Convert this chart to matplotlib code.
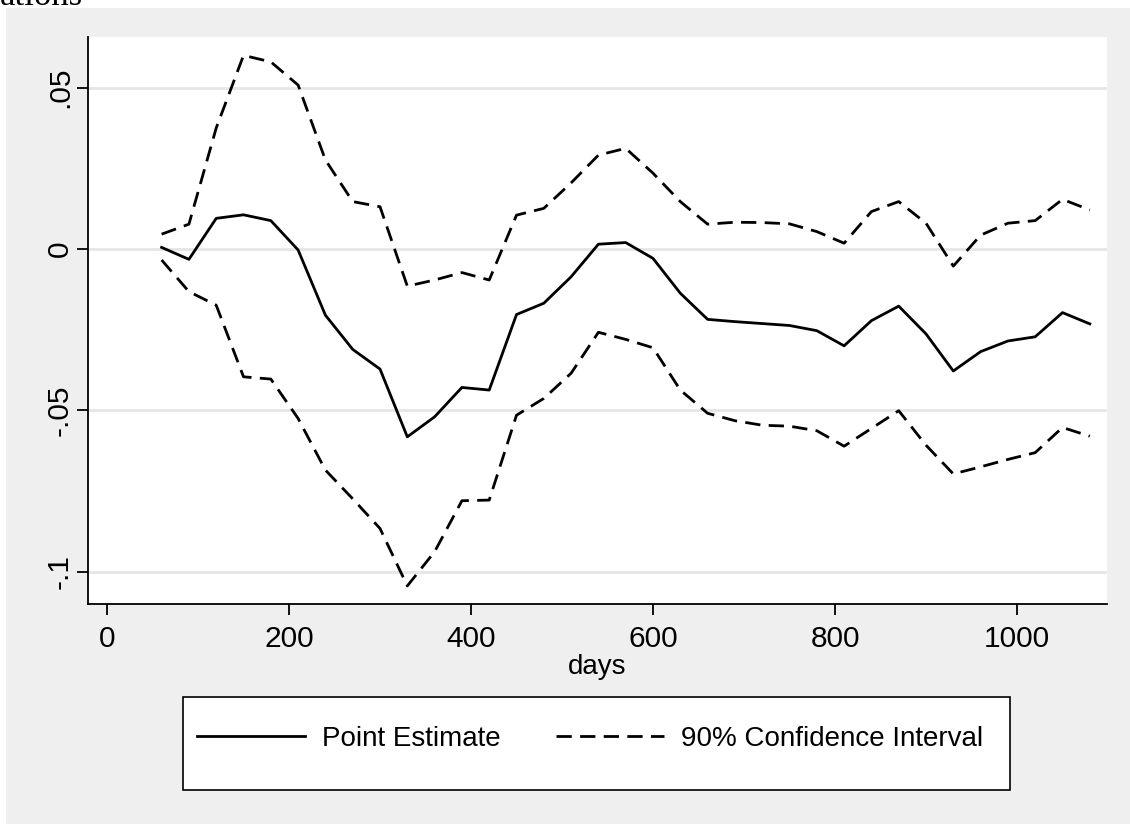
import numpy as np
import matplotlib.pyplot as plt
from matplotlib.patches import Rectangle

plt.rcParams['font.family'] = ['Liberation Sans', 'DejaVu Sans']
plt.rcParams['lines.scale_dashes'] = False

# horizon in days
days = np.arange(60, 1081, 30)

point = [0.0005, -0.0032, 0.0095, 0.0106, 0.0088, -0.0003, -0.0205, -0.0311, -0.0372, -0.0582,
         -0.0520, -0.0429, -0.0437, -0.0203, -0.0168, -0.0086, 0.0015, 0.0020, -0.0029, -0.0137,
         -0.0218, -0.0225, -0.0231, -0.0237, -0.0253, -0.0300, -0.0222, -0.0177, -0.0263, -0.0378,
         -0.0318, -0.0285, -0.0272, -0.0197, -0.0232]

upper = [0.0046, 0.0077, 0.0375, 0.0600, 0.0580, 0.0508, 0.0276, 0.0147, 0.0131, -0.0115,
         -0.0096, -0.0073, -0.0096, 0.0105, 0.0126, 0.0205, 0.0291, 0.0312, 0.0235, 0.0147,
         0.0077, 0.0083, 0.0082, 0.0078, 0.0054, 0.0018, 0.0116, 0.0147, 0.0080, -0.0053,
         0.0043, 0.0080, 0.0088, 0.0154, 0.0121]

lower = [-0.0034, -0.0132, -0.0174, -0.0396, -0.0403, -0.0525, -0.0685, -0.0774, -0.0866, -0.1044,
         -0.0938, -0.0780, -0.0778, -0.0515, -0.0463, -0.0385, -0.0258, -0.0280, -0.0306, -0.0437,
         -0.0509, -0.0532, -0.0546, -0.0549, -0.0563, -0.0611, -0.0556, -0.0501, -0.0608, -0.0697,
         -0.0675, -0.0652, -0.0631, -0.0553, -0.0580]

W, H = 1130, 824
fig = plt.figure(figsize=(W / 100, H / 100), dpi=100, facecolor='white')
fig.patches.append(Rectangle((6 / W, 0), 1, 1 - 8 / H, transform=fig.transFigure,
                             facecolor='#EFEFEF', edgecolor='none', zorder=-10))
fig.text(0.0, 1 - 5 / H, 'ations', family='Liberation Serif', fontsize=25, va='baseline', ha='left')

ax = fig.add_axes([88 / W, 1 - 604 / H, (1107 - 88) / W, (604 - 37) / H])
ax.set_facecolor('white')

dash = (11, 6)
ax.plot(days, point, color='black', lw=2.0, label='Point Estimate')
ax.plot(days, upper, color='black', lw=2.0, dashes=dash, label='90% Confidence Interval')
ax.plot(days, lower, color='black', lw=2.0, dashes=dash)

ax.set_xlim(-20.9, 1098.9)
ax.set_ylim(-0.110, 0.0657)
ax.set_xticks([0, 200, 400, 600, 800, 1000])
ax.set_yticks([-0.1, -0.05, 0, 0.05])
ax.set_yticklabels(['-.1', '-.05', '0', '.05'], rotation=90, va='center')
ax.yaxis.grid(True, color='#E6E6E6', lw=2)
ax.set_axisbelow(True)

for s in ['top', 'right']:
    ax.spines[s].set_visible(False)
for s in ['left', 'bottom']:
    ax.spines[s].set_linewidth(1.3)
ax.tick_params(direction='out', length=8, width=1.3, labelsize=21.5)
ax.tick_params(axis='x', pad=7)
ax.tick_params(axis='y', pad=2)
ax.set_xlabel('days', fontsize=20, labelpad=1)

# legend box
fig.patches.append(Rectangle((183 / W, 1 - 790 / H), (1010 - 183) / W, (790 - 697) / H,
                             transform=fig.transFigure, facecolor='white', edgecolor='black',
                             lw=1.2, zorder=1))
h, l = ax.get_legend_handles_labels()
fig.legend(h, l, loc='center', bbox_to_anchor=(590 / W, 1 - 739 / H), ncol=2, frameon=False,
           fontsize=20, handlelength=3.9, handletextpad=0.6, columnspacing=2.0)

plt.savefig('out.png', dpi=100, facecolor=fig.get_facecolor())
